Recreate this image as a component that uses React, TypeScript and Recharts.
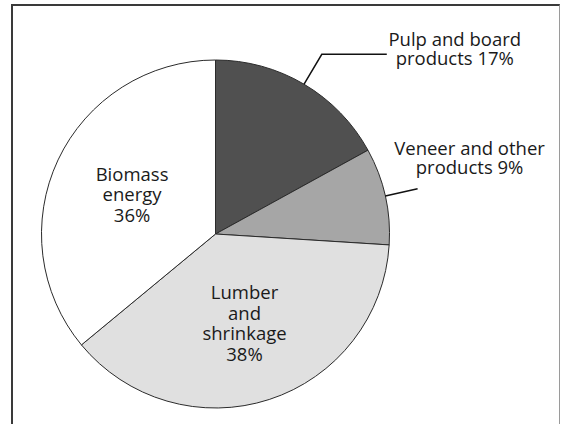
import React from 'react';
import { PieChart, Pie, Cell } from 'recharts';

// slices go clockwise from 12 o'clock
const names = ['Pulp and board products', 'Veneer and other products', 'Lumber and shrinkage', 'Biomass energy'];
const shares = [17, 9, 38, 36];
const fills = ['#505050', '#a6a6a6', '#e0e0e0', '#ffffff'];
const labelWords = [
  ['Pulp and board', 'products'],
  ['Veneer and other', 'products'],
  ['Lumber', 'and', 'shrinkage'],
  ['Biomass', 'energy'],
];

// outside labels get a leader line, inside ones sit on the slice
const labelLayout = [
  { outside: true, reach: 1.2, lineDx: 65, textDx: 133, textDy: -8 },
  { outside: true, reach: 1.19, lineDx: 0, textDx: 52, textDy: -34 },
  { outside: false, reach: 0.54 },
  { outside: false, reach: 0.53 },
];

const data = names.map((name, i) => ({ name, value: shares[i] }));

const RADIAN = Math.PI / 180;
const FONT = '"Open Sans", "Noto Sans", sans-serif';
const FONT_SIZE = 18.5;

function renderLabel(props: any) {
  const { cx, cy, midAngle, outerRadius, index, value } = props;
  const lay = labelLayout[index];
  const words = labelWords[index];
  const cos = Math.cos(-midAngle * RADIAN);
  const sin = Math.sin(-midAngle * RADIAN);

  if (!lay.outside) {
    const lines = [...words, `${value}%`];
    const lh = 20.5;
    const x = cx + outerRadius * lay.reach * cos;
    const y = cy + outerRadius * lay.reach * sin;
    const y0 = y - ((lines.length - 1) * lh) / 2 + 6.5;
    return (
      <text key={index} x={x} y={y0} textAnchor="middle" fill="#1a1a1a" fontSize={FONT_SIZE} fontFamily={FONT}>
        {lines.map((t, k) => (
          <tspan key={k} x={x} y={y0 + k * lh}>{t}</tspan>
        ))}
      </text>
    );
  }

  const lines = [words[0], `${words[1]} ${value}%`];
  const lh = 19;
  const ex = cx + outerRadius * cos;
  const ey = cy + outerRadius * sin;
  const mx = cx + outerRadius * lay.reach! * cos;
  const my = cy + outerRadius * lay.reach! * sin;
  const tx = mx + lay.textDx!;
  const ty = my + lay.textDy!;
  const pts = lay.lineDx ? `${ex},${ey} ${mx},${my} ${mx + lay.lineDx},${my}` : `${ex},${ey} ${mx},${my}`;
  return (
    <g key={index}>
      <polyline points={pts} fill="none" stroke="#111" strokeWidth={1.5} />
      <text x={tx} y={ty} textAnchor="middle" fill="#1a1a1a" fontSize={FONT_SIZE} fontFamily={FONT}>
        {lines.map((t, k) => (
          <tspan key={k} x={tx} y={ty + k * lh}>{t}</tspan>
        ))}
      </text>
    </g>
  );
}

export default function App() {
  return (
    <div style={{ position: 'absolute', left: 0, top: 0, width: 561, height: 424, overflow: 'hidden', background: '#fff' }}>
      <div
        style={{
          position: 'absolute',
          left: 11,
          top: 4,
          width: 546,
          height: 440,
          borderLeft: '2px solid #3a3a3a',
          borderTop: '2px solid #3a3a3a',
          borderRight: '1.5px solid #9a9a9a',
        }}
      />
      <div style={{ position: 'absolute', left: 0, top: 0 }}>
        <PieChart width={561} height={424}>
          <Pie
            data={data}
            dataKey="value"
            nameKey="name"
            cx={210.5}
            cy={229}
            outerRadius={174}
            startAngle={90}
            endAngle={-270}
            stroke="#2b2b2b"
            strokeWidth={1}
            label={renderLabel}
            labelLine={false}
            isAnimationActive={false}
          >
            {data.map((d, i) => (
              <Cell key={d.name} fill={fills[i]} />
            ))}
          </Pie>
        </PieChart>
      </div>
    </div>
  );
}
